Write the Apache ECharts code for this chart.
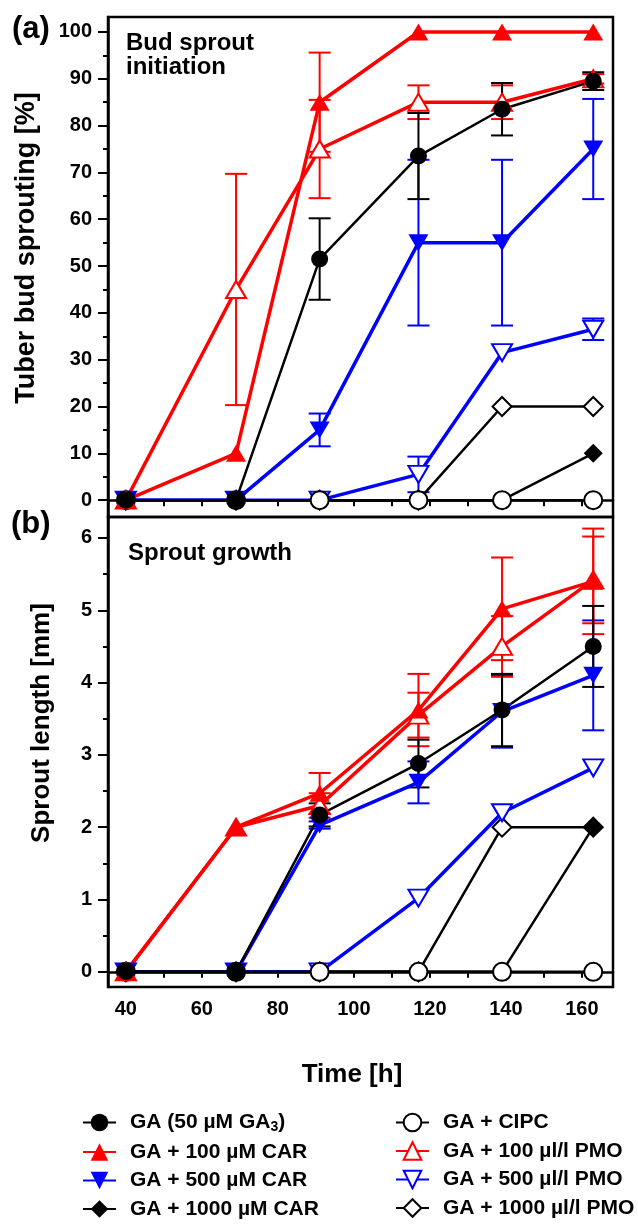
<!DOCTYPE html>
<html lang="en">
<head>
    <meta charset="UTF-8">
    <title>Sprouting</title>
    <script src="https://cdn.jsdelivr.net/npm/echarts@6.0.0/dist/echarts.min.js"></script>
</head>
<body style="margin:0;width:638px;height:1224px;background:#fff">
    <div id="container" style="width:638px;height:1224px"></div>
</body>
<script>
    // sampling times [h]
    var times = [40, 69, 91, 117, 139, 163];

    // (a) bud sprout initiation [%]
    var gaA      = [0, 0, 51.5, 73.5, 83.5, 89.5];
    var car100A  = [0, 10, 85, 100, 100, 100];
    var car500A  = [0, 0, 15, 55, 55, 75];
    var car1000A = [0, 0, 0, 0, 0, 10];
    var cipcA    = [0, 0, 0, 0, 0, 0];
    var pmo100A  = [0, 45, 75, 85, 85, 90];
    var pmo500A  = [0, 0, 0, 5.5, 31.5, 36.5];
    var pmo1000A = [0, 0, 0, 0, 20, 20];
    // error (+/-)
    var gaAErr     = [0, 0, 8.7, 9.2, 5.6, 1.9];
    var car100AErr = [0, 0, 10.6, 0, 0, 0];
    var car500AErr = [0, 0, 3.5, 17.7, 17.7, 10.7];
    var pmo100AErr = [0, 24.7, 10.5, 3.6, 3.6, 1.0];
    var pmo500AErr = [0, 0, 0, 3.8, 0, 2.3];

    // (b) sprout length [mm]
    var gaB      = [0, 0, 2.17, 2.88, 3.62, 4.5];
    var car100B  = [0, 2.0, 2.47, 3.62, 5.02, 5.4];
    var car500B  = [0, 0, 2.03, 2.62, 3.6, 4.1];
    var car1000B = [0, 0, 0, 0, 0, 2.0];
    var cipcB    = [0, 0, 0, 0, 0, 0];
    var pmo100B  = [0, 2.0, 2.3, 3.55, 4.5, 5.42];
    var pmo500B  = [0, 0, 0, 1.02, 2.2, 2.82];
    var pmo1000B = [0, 0, 0, 0, 2.0, 2.0];
    var gaBErr     = [0, 0, 0.16, 0.33, 0.5, 0.56];
    var car100BErr = [0, 0, 0.28, 0.5, 0.71, 0.73];
    var car500BErr = [0, 0, 0.05, 0.29, 0.5, 0.76];
    var pmo100BErr = [0, 0, 0.17, 0.31, 0.42, 0.6];

    // ticks
    var xLabels = [40, 60, 80, 100, 120, 140, 160];
    var xTicks = [40, 50, 60, 70, 80, 90, 100, 110, 120, 130, 140, 150, 160];
    var yTicksA = [0, 10, 20, 30, 40, 50, 60, 70, 80, 90, 100];
    var yMinorA = [5, 15, 25, 35, 45, 55, 65, 75, 85, 95];
    var yTicksB = [0, 1, 2, 3, 4, 5, 6];
    var yMinorB = [0.5, 1.5, 2.5, 3.5, 4.5, 5.5];

    var names = {
        ga: 'GA (50 µM GA3)', car100: 'GA + 100 µM CAR', car500: 'GA + 500 µM CAR', car1000: 'GA + 1000 µM CAR',
        cipc: 'GA + CIPC', pmo100: 'GA + 100 µl/l PMO', pmo500: 'GA + 500 µl/l PMO', pmo1000: 'GA + 1000 µl/l PMO'
    };

    var RED = '#ff0000', BLUE = '#0000ff', BLACK = '#000000';
    var font = 'Liberation Sans, Arial, sans-serif';

    function pts(vals) {
        return times.map(function (t, i) { return [t, vals[i]]; });
    }

    function lineSeries(name, vals, panel, color, symbol, size, open, rotate, width) {
        return {
            type: 'line', name: name, xAxisIndex: panel, yAxisIndex: panel * 2,
            data: pts(vals), symbol: symbol, symbolSize: size, symbolRotate: rotate || 0,
            lineStyle: {color: color, width: width},
            itemStyle: open ? {color: '#fff', borderColor: color, borderWidth: 2} : {color: color, borderWidth: 0},
            emphasis: {disabled: true}, z: 3
        };
    }

    function errSeries(vals, errs, panel, color) {
        var d = [];
        times.forEach(function (t, i) { if (errs[i] > 0) d.push([t, vals[i], errs[i]]); });
        return {
            type: 'custom', xAxisIndex: panel, yAxisIndex: panel * 2, data: d, silent: true, z: 2,
            renderItem: function (params, api) {
                var x = api.value(0), y = api.value(1), e = api.value(2);
                var top = api.coord([x, y + e]), bot = api.coord([x, y - e]);
                var hw = 11, st = {stroke: color, lineWidth: 2};
                return {type: 'group', children: [
                    {type: 'line', shape: {x1: top[0], y1: top[1], x2: bot[0], y2: bot[1]}, style: st},
                    {type: 'line', shape: {x1: top[0] - hw, y1: top[1], x2: top[0] + hw, y2: top[1]}, style: st},
                    {type: 'line', shape: {x1: bot[0] - hw, y1: bot[1], x2: bot[0] + hw, y2: bot[1]}, style: st}
                ]};
            }
        };
    }

    function panelSeries(p, d) {
        return [
            errSeries(d.pmo500, d.pmo500Err, p, BLUE),
            errSeries(d.car500, d.car500Err, p, BLUE),
            errSeries(d.pmo100, d.pmo100Err, p, RED),
            errSeries(d.car100, d.car100Err, p, RED),
            errSeries(d.ga, d.gaErr, p, BLACK),
            lineSeries(names.pmo1000, d.pmo1000, p, BLACK, 'diamond', 19, true, 0, 2.5),
            lineSeries(names.car1000, d.car1000, p, BLACK, 'diamond', 19, false, 0, 2.5),
            lineSeries(names.pmo500, d.pmo500, p, BLUE, 'triangle', [20, 17], true, 180, 3.5),
            lineSeries(names.car500, d.car500, p, BLUE, 'triangle', [20, 17], false, 180, 3.5),
            lineSeries(names.cipc, d.cipc, p, BLACK, 'circle', 18, true, 0, 2.5),
            lineSeries(names.pmo100, d.pmo100, p, RED, 'triangle', [20, 17], true, 0, 3.5),
            lineSeries(names.car100, d.car100, p, RED, 'triangle', [20, 17], false, 0, 3.5),
            lineSeries(names.ga, d.ga, p, BLACK, 'circle', 17, false, 0, 2.5)
        ];
    }

    var series = panelSeries(0, {
        ga: gaA, car100: car100A, car500: car500A, car1000: car1000A, cipc: cipcA,
        pmo100: pmo100A, pmo500: pmo500A, pmo1000: pmo1000A,
        gaErr: gaAErr, car100Err: car100AErr, car500Err: car500AErr, pmo100Err: pmo100AErr, pmo500Err: pmo500AErr
    }).concat(panelSeries(1, {
        ga: gaB, car100: car100B, car500: car500B, car1000: car1000B, cipc: cipcB,
        pmo100: pmo100B, pmo500: pmo500B, pmo1000: pmo1000B,
        gaErr: gaBErr, car100Err: car100BErr, car500Err: car500BErr, pmo100Err: pmo100BErr, pmo500Err: [0, 0, 0, 0, 0, 0]
    }));

    var tickLabel = {fontFamily: font, fontWeight: 'bold', fontSize: 20, color: '#000'};
    var axisLine = {show: true, lineStyle: {color: '#000', width: 2.5}};

    function xAxis(grid, labels) {
        return {
            type: 'value', gridIndex: grid, position: 'bottom', min: 35.3, max: 168.2,
            axisLine: axisLine, splitLine: {show: false},
            axisTick: {show: true, customValues: xTicks, length: 6, lineStyle: {color: '#000', width: 2}},
            axisLabel: labels ? Object.assign({customValues: xLabels, margin: 12}, tickLabel) : {show: false}
        };
    }

    function yAxes(grid, min, max, major, minor) {
        return [{
            type: 'value', gridIndex: grid, position: 'left', min: min, max: max,
            axisLine: axisLine, splitLine: {show: false},
            axisTick: {show: true, customValues: major, length: 10, lineStyle: {color: '#000', width: 2}},
            axisLabel: Object.assign({customValues: major, margin: 16}, tickLabel)
        }, {
            type: 'value', gridIndex: grid, position: 'left', offset: 0, min: min, max: max,
            axisLine: {show: false}, splitLine: {show: false}, axisLabel: {show: false},
            axisTick: {show: true, customValues: minor, length: 5, lineStyle: {color: '#000', width: 2}}
        }];
    }

    var legendText = {
        fontFamily: font, fontWeight: 'bold', fontSize: 21, color: '#000', lineHeight: 20, padding: [0, 0, 0, 9],
        rich: {s: {fontFamily: font, fontWeight: 'bold', fontSize: 14, color: '#000', padding: [9, 0, 0, 0]}}
    };
    function legend(left, data) {
        return {
            orient: 'vertical', left: left, top: 1112, padding: 0, itemWidth: 33, itemHeight: 22, itemGap: 7.5,
            selectedMode: false, data: data, textStyle: legendText,
            formatter: function (n) { return n === names.ga ? 'GA (50 µM GA{s|3})' : n; }
        };
    }

    function gText(text, x, y, size, rot, align) {
        return {
            type: 'text', x: x, y: y, rotation: rot || 0, silent: true,
            style: {text: text, font: 'bold ' + size + 'px ' + font, fill: '#000',
                textAlign: align || 'left', textVerticalAlign: 'middle'}
        };
    }

    var dom = document.getElementById('container');
    var myChart = echarts.init(dom);

    var option = {
        animation: false,
        backgroundColor: '#fff',
        grid: [
            {left: 108, top: 17, width: 505, height: 500, show: true, borderColor: '#000', borderWidth: 2.5},
            {left: 108, top: 517, width: 505, height: 470, show: true, borderColor: '#000', borderWidth: 2.5}
        ],
        xAxis: [xAxis(0, false), xAxis(1, true)],
        yAxis: yAxes(0, -3.6, 103.2, yTicksA, yMinorA).concat(yAxes(1, -0.21, 6.29, yTicksB, yMinorB)),
        legend: [
            legend(82, [names.ga, names.car100, names.car500, names.car1000]),
            legend(395, [names.cipc, names.pmo100, names.pmo500, names.pmo1000])
        ],
        graphic: [
            gText('(a)', 12, 29, 31),
            gText('(b)', 11, 524, 31),
            gText('Tuber bud sprouting [%]', 27, 248, 27, Math.PI / 2, 'center'),
            gText('Sprout length [mm]', 42, 723, 26, Math.PI / 2, 'center'),
            gText('Time [h]', 352, 1075, 26, 0, 'center'),
            gText('Bud sprout', 126, 43, 24),
            gText('initiation', 126, 67, 24),
            gText('Sprout growth', 128, 553, 24)
        ],
        series: series
    };

    if (option && typeof option === "object") {
        myChart.setOption(option, true);
    }
</script>
</html>
